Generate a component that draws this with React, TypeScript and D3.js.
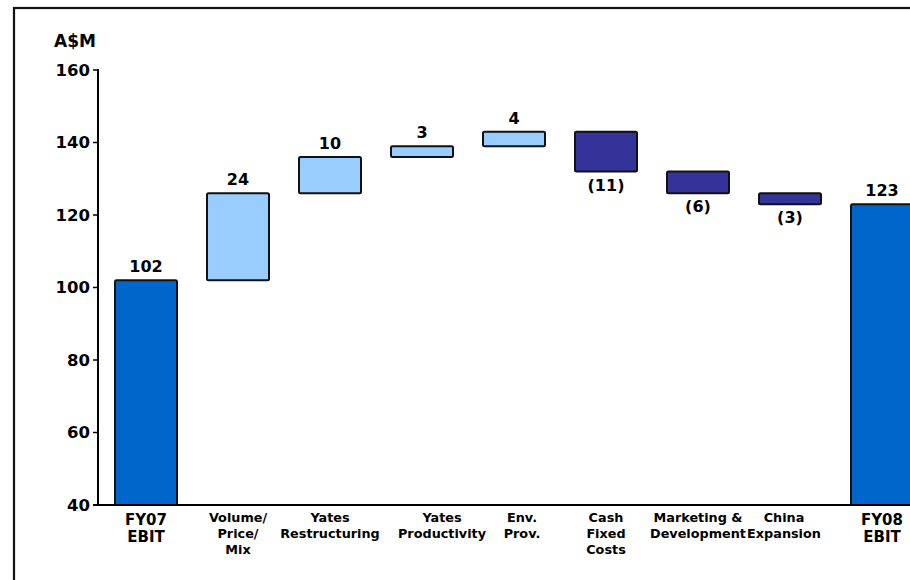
import React from "react";
import * as d3 from "d3";

// EBIT bridge, A$M
const categories: string[][] = [
  ["FY07", "EBIT"],
  ["Volume/", "Price/", "Mix"],
  ["Yates", "Restructuring"],
  ["Yates", "Productivity"],
  ["Env.", "Prov."],
  ["Cash", "Fixed", "Costs"],
  ["Marketing &", "Development"],
  ["China", "Expansion"],
  ["FY08", "EBIT"],
];
// kind: "total" bars start at axis; "delta" bars float
const kinds: string[] = ["total", "delta", "delta", "delta", "delta", "delta", "delta", "delta", "total"];
const values: number[] = [102, 24, 10, 3, 4, -11, -6, -3, 123];
const yTicks: number[] = [40, 60, 80, 100, 120, 140, 160];

// horizontal shift of a few category captions, in px
const captionShift: number[] = [0, 0, 0, 20, 8, 0, 0, -6, 0];

const W = 910;
const H = 580;
const FONT = "'DejaVu Sans', Verdana, sans-serif";

export default function App() {
  const x = d3
    .scaleBand<number>()
    .domain(d3.range(categories.length))
    .range([100, 928])
    .paddingInner(30 / 92)
    .paddingOuter(15 / 92);
  const y = d3.scaleLinear().domain([40, 160]).range([505, 70]);

  let running = 0;
  const bars = values.map((v, i) => {
    let lo: number, hi: number;
    if (kinds[i] === "total") {
      lo = 40;
      hi = v;
      running = v;
    } else {
      const start = running;
      running = start + v;
      lo = Math.min(start, running);
      hi = Math.max(start, running);
    }
    let fill = "#0066CC";
    if (kinds[i] === "delta") fill = v >= 0 ? "#99CCFF" : "#333399";
    return { i, v, lo, hi, fill };
  });

  const axisX = 98;

  return (
    <div style={{ position: "absolute", left: 0, top: 0 }}>
      <svg width={W} height={H} style={{ display: "block", background: "#fff" }}>
        <rect x={14} y={8} width={1000} height={1000} fill="none" stroke="#111" strokeWidth={2.2} />
        <text x={54} y={47} fontFamily={FONT} fontWeight="bold" fontSize={17} fill="#000">
          A$M
        </text>
        {bars.map((b) => (
          <rect
            key={b.i}
            x={x(b.i)!}
            y={y(b.hi)}
            width={x.bandwidth()}
            height={y(b.lo) - y(b.hi)}
            fill={b.fill}
            stroke="#111"
            strokeWidth={2}
            rx={1.5}
          />
        ))}
        {/* axes */}
        <line x1={axisX} x2={axisX} y1={y(160) - 1} y2={y(40)} stroke="#000" strokeWidth={2} />
        <line x1={axisX - 5} x2={W + 5} y1={y(40)} y2={y(40)} stroke="#000" strokeWidth={2} />
        {yTicks.map((t) => (
          <g key={t}>
            <line x1={axisX - 5} x2={axisX} y1={y(t)} y2={y(t)} stroke="#000" strokeWidth={1.5} />
            <text
              x={axisX - 8}
              y={y(t)}
              dy="0.36em"
              textAnchor="end"
              fontFamily={FONT}
              fontWeight="bold"
              fontSize={16.5}
              fill="#000"
            >
              {t}
            </text>
          </g>
        ))}
        {/* value labels */}
        {bars.map((b) => {
          const cx = x(b.i)! + x.bandwidth() / 2;
          const neg = b.v < 0;
          const label = neg ? `(${Math.abs(b.v)})` : `${b.v}`;
          return (
            <text
              key={"v" + b.i}
              x={cx}
              y={neg ? y(b.lo) + 19 : y(b.hi) - 8}
              textAnchor="middle"
              fontFamily={FONT}
              fontWeight="bold"
              fontSize={16}
              fill="#000"
            >
              {label}
            </text>
          );
        })}
        {/* category labels */}
        {categories.map((lines, i) => {
          const cx = x(i)! + x.bandwidth() / 2 + captionShift[i];
          const big = kinds[i] === "total";
          const fs = big ? 15 : 12.8;
          const lh = big ? 17 : 16;
          return (
            <text
              key={"c" + i}
              x={cx}
              y={big ? 525 : 522}
              textAnchor="middle"
              fontFamily={FONT}
              fontWeight="bold"
              fontSize={fs}
              fill="#000"
            >
              {lines.map((l, k) => (
                <tspan key={k} x={cx} dy={k === 0 ? 0 : lh}>
                  {l}
                </tspan>
              ))}
            </text>
          );
        })}
      </svg>
    </div>
  );
}
